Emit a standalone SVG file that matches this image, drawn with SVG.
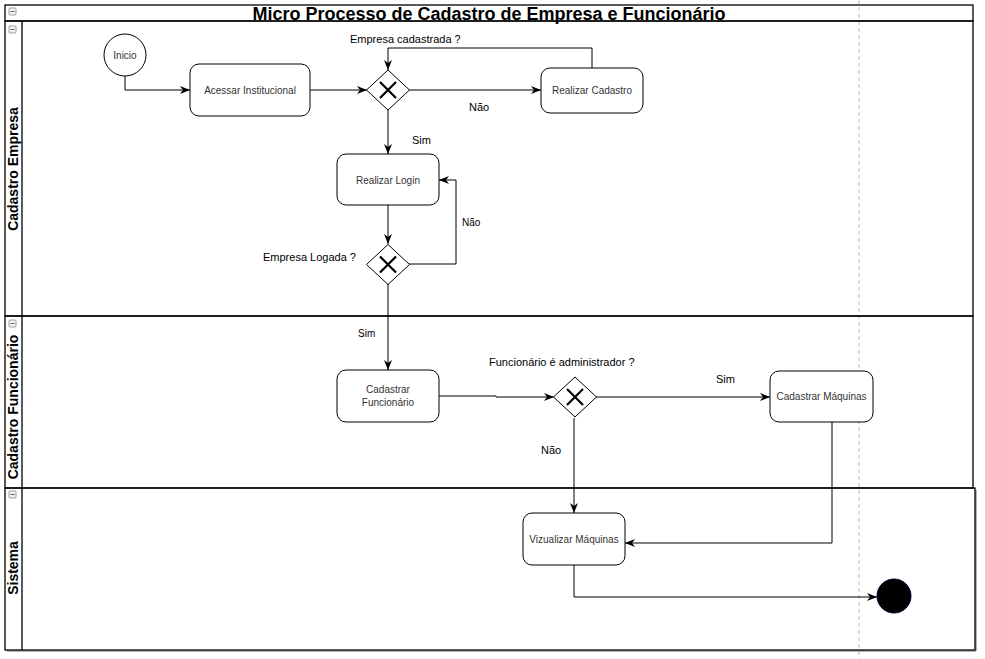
<svg xmlns="http://www.w3.org/2000/svg" width="985" height="659" viewBox="0 0 985 659">
<style>
.lane{fill:none;stroke:#000;stroke-width:1.3}
.task{fill:#fff;stroke:#000;stroke-width:1}
.gw{fill:#fff;stroke:#000;stroke-width:1}
.gx{stroke:#000;stroke-width:2.2;fill:none}
.tt{font-family:"Liberation Sans",Arial,sans-serif;font-size:10px;fill:#333;text-anchor:middle}
.lbl{font-family:"Liberation Sans",Arial,sans-serif;font-size:11px;fill:#000}
.lblS{font-family:"Liberation Sans",Arial,sans-serif;font-size:10px;fill:#000}
.lt{font-family:"Liberation Sans",Arial,sans-serif;font-size:14px;font-weight:bold;fill:#000;text-anchor:middle}
.edge{fill:none;stroke:#000;stroke-width:1}
.icon{fill:#f2f2f2;stroke:#888;stroke-width:0.8}
.iconm{stroke:#666;stroke-width:1}
</style>
<defs>
<marker id="arr" markerUnits="userSpaceOnUse" markerWidth="10" markerHeight="8" refX="10" refY="4" orient="auto">
<path d="M0,0 L10,4 L0,8 L3,4 z" fill="#000"/>
</marker>
</defs>
<rect x="0" y="0" width="985" height="659" fill="#fff"/>
<line x1="859" y1="0" x2="859" y2="659" stroke="#bbb" stroke-width="1" stroke-dasharray="4,3"/>

<g id="pool">
<rect class="lane" x="5" y="5" width="968" height="16"/>
<text x="489" y="20" font-family="'Liberation Sans',Arial,sans-serif" font-size="18" font-weight="bold" text-anchor="middle">Micro Processo de Cadastro de Empresa e Funcionário</text>
<rect class="icon" x="9" y="8" width="7" height="7" rx="1"/><line class="iconm" x1="10.5" y1="11.5" x2="14.5" y2="11.5"/>
</g>
<g id="lane-empresa">
<rect class="lane" x="5" y="21" width="968" height="295"/>
<line class="lane" x1="22" y1="21" x2="22" y2="316"/>
<text class="lt" x="18" y="169" transform="rotate(-90 18 169)">Cadastro Empresa</text>
<rect class="icon" x="9" y="26" width="7" height="7" rx="1"/><line class="iconm" x1="10.5" y1="29.5" x2="14.5" y2="29.5"/>
</g>
<g id="lane-funcionario">
<rect class="lane" x="5" y="316" width="968" height="172"/>
<line class="lane" x1="22" y1="316" x2="22" y2="488"/>
<text class="lt" x="18" y="407" transform="rotate(-90 18 407)">Cadastro Funcionário</text>
<rect class="icon" x="9" y="320" width="7" height="7" rx="1"/><line class="iconm" x1="10.5" y1="323.5" x2="14.5" y2="323.5"/>
</g>
<g id="lane-sistema">
<line x1="976" y1="490" x2="976" y2="651" stroke="#999" stroke-width="1.5"/>
<line x1="7" y1="651" x2="976" y2="651" stroke="#999" stroke-width="1.5"/>
<rect class="lane" x="5" y="488" width="970" height="162"/>
<line class="lane" x1="22" y1="488" x2="22" y2="650"/>
<text class="lt" x="18" y="568" transform="rotate(-90 18 568)">Sistema</text>
<rect class="icon" x="9" y="491" width="7" height="7" rx="1"/><line class="iconm" x1="10.5" y1="494.5" x2="14.5" y2="494.5"/>
</g>

<g id="connectors">
<polyline class="edge" points="125,76 125,90 190,90" marker-end="url(#arr)"/>
<line class="edge" x1="310" y1="90" x2="367" y2="90" marker-end="url(#arr)"/>
<line class="edge" x1="409" y1="90" x2="541" y2="90" marker-end="url(#arr)"/>
<polyline class="edge" points="592,68 592,48 388,48 388,70" marker-end="url(#arr)"/>
<line class="edge" x1="388" y1="110" x2="388" y2="154" marker-end="url(#arr)"/>
<line class="edge" x1="388" y1="205" x2="388" y2="244" marker-end="url(#arr)"/>
<polyline class="edge" points="409,264 456,264 456,180 439,180" marker-end="url(#arr)"/>
<line class="edge" x1="388" y1="284" x2="388" y2="370" marker-end="url(#arr)"/>
<polyline class="edge" points="439,396 496,396 496,397 554,397" marker-end="url(#arr)"/>
<line class="edge" x1="596" y1="397" x2="770" y2="397" marker-end="url(#arr)"/>
<line class="edge" x1="574" y1="418" x2="574" y2="513" marker-end="url(#arr)"/>
<polyline class="edge" points="832,422 832,543 625,543" marker-end="url(#arr)"/>
<polyline class="edge" points="574,565 574,597 877,597" marker-end="url(#arr)"/>
<text class="lbl" x="350" y="43">Empresa cadastrada ?</text>
<text class="lbl" x="469" y="111">Não</text>
<text class="lbl" x="412" y="144">Sim</text>
<text class="lblS" x="462" y="226">Não</text>
<text class="lbl" x="263" y="261">Empresa Logada ?</text>
<text class="lblS" x="358" y="337">Sim</text>
<text class="lbl" x="489" y="366">Funcionário é administrador ?</text>
<text class="lbl" x="716" y="383">Sim</text>
<text class="lbl" x="541" y="454">Não</text>
</g>

<g id="inicio">
<circle cx="125" cy="55" r="21" fill="#fff" stroke="#000" stroke-width="1"/>
<text class="tt" x="125" y="58.5">Inicio</text>
</g>
<g id="acessar-institucional">
<rect class="task" x="190" y="64" width="120" height="52" rx="9"/>
<text class="tt" x="250" y="94">Acessar Institucional</text>
</g>
<g id="gw-empresa-cadastrada">
<polygon class="gw" points="388,70 409.5,90 388,110 366.5,90"/>
<path class="gx" d="M380,82 L396,98 M396,82 L380,98"/>
</g>
<g id="realizar-cadastro">
<rect class="task" x="541" y="68" width="102" height="45" rx="9"/>
<text class="tt" x="592" y="94">Realizar Cadastro</text>
</g>
<g id="realizar-login">
<rect class="task" x="337" y="154" width="102" height="51" rx="9"/>
<text class="tt" x="388" y="184">Realizar Login</text>
</g>
<g id="gw-empresa-logada">
<polygon class="gw" points="388,244.5 409.5,264.5 388,284.5 366.5,264.5"/>
<path class="gx" d="M380,256.5 L396,272.5 M396,256.5 L380,272.5"/>
</g>
<g id="cadastrar-funcionario">
<rect class="task" x="337" y="370" width="102" height="52" rx="9"/>
<text class="tt" x="388" y="393">Cadastrar</text>
<text class="tt" x="388" y="406">Funcionário</text>
</g>
<g id="gw-administrador">
<polygon class="gw" points="575,377 596.5,397 575,417 553.5,397"/>
<path class="gx" d="M567,389 L583,405 M583,389 L567,405"/>
</g>
<g id="cadastrar-maquinas">
<rect class="task" x="770" y="371" width="103" height="51" rx="9"/>
<text class="tt" x="821.5" y="400">Cadastrar Máquinas</text>
</g>
<g id="vizualizar-maquinas">
<rect class="task" x="523" y="513" width="102" height="52" rx="9"/>
<text class="tt" x="574" y="543">Vizualizar Máquinas</text>
</g>
<g id="fim">
<circle cx="894" cy="596" r="17" fill="#000" stroke="#000033" stroke-width="1"/>
</g>
</svg>
